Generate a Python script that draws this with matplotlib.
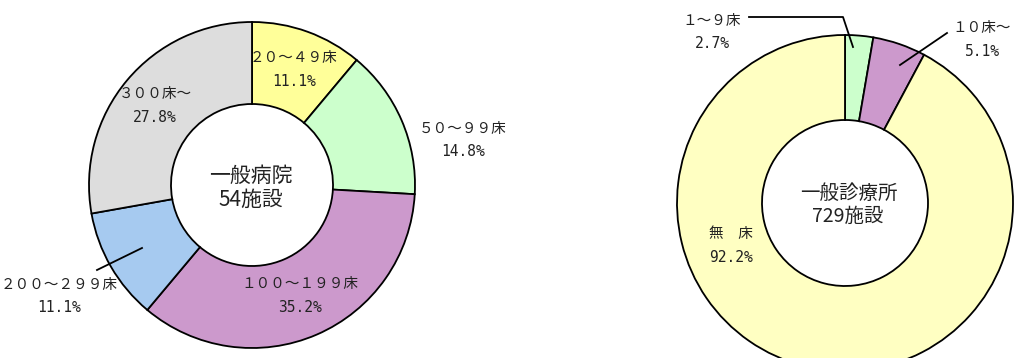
import matplotlib
matplotlib.use("Agg")
import matplotlib.pyplot as plt

plt.rcParams['font.family'] = ['Noto Sans CJK JP', 'DejaVu Sans']

# 一般病院（病床規模別）
hosp_labels = ['２０～４９床', '５０～９９床', '１００～１９９床', '２００～２９９床', '３００床～']
hosp_pct = [11.1, 14.8, 35.2, 11.1, 27.8]
hosp_colors = ['#ffff99', '#ccffcc', '#cc99cc', '#a6caf0', '#dddddd']
hosp_title = '一般病院\n54施設'

# 一般診療所（病床規模別）
clin_labels = ['１～９床', '１０床～', '無　床']
clin_pct = [2.7, 5.1, 92.2]
clin_colors = ['#ccffcc', '#cc99cc', '#ffffc2']
clin_title = '一般診療所\n729施設'

W, H = 1015, 358
fig = plt.figure(figsize=(W / 100, H / 100), dpi=100)
ax = fig.add_axes([0, 0, 1, 1])

def py(y):
    # 画像座標(上が0)をデータ座標へ
    return H - y

ax.pie(hosp_pct, colors=hosp_colors, startangle=90, counterclock=False,
       center=(252, py(185)), radius=163,
       wedgeprops=dict(width=82, edgecolor='black', linewidth=1.3))
ax.pie(clin_pct, colors=clin_colors, startangle=90, counterclock=False,
       center=(845, py(203)), radius=168,
       wedgeprops=dict(width=85, edgecolor='black', linewidth=1.3))

ax.set_xlim(0, W)
ax.set_ylim(0, H)
ax.set_aspect('equal')
ax.axis('off')

tc = '#222222'
mono = ['DejaVu Sans Mono', 'Noto Sans CJK JP']

def label(x, y, name, pct):
    ax.text(x, py(y), name, ha='center', va='center', fontsize=10.5, color=tc)
    ax.text(x, py(y + 23), f'{pct:.1f}%', ha='center', va='center',
            fontsize=10.5, color=tc, family=mono)

# 一般病院のラベル
hosp_pos = [(294, 58), (463, 129), (300, 284), (59, 285), (155, 94)]
for (x, y), name, pct in zip(hosp_pos, hosp_labels, hosp_pct):
    label(x, y, name, pct)
ax.plot([97, 142], [py(270), py(248)], color='black', lw=1.3)
ax.text(251, py(188), hosp_title, ha='center', va='center', fontsize=15,
        color=tc, linespacing=1.1)

# 一般診療所のラベル
clin_pos = [(712, 21), (982, 28), (731, 234)]
for (x, y), name, pct in zip(clin_pos, clin_labels, clin_pct):
    label(x, y, name, pct)
ax.plot([749, 843, 853], [py(17), py(17), py(47)], color='black', lw=1.3)
ax.plot([900, 947], [py(65), py(33)], color='black', lw=1.3)
ax.text(849, py(193), '一般診療所', ha='center', va='center', fontsize=14,
        color=tc)
ax.text(848, py(216), '729施設', ha='center', va='center', fontsize=14,
        color=tc)

fig.savefig('out.png', dpi=100)
